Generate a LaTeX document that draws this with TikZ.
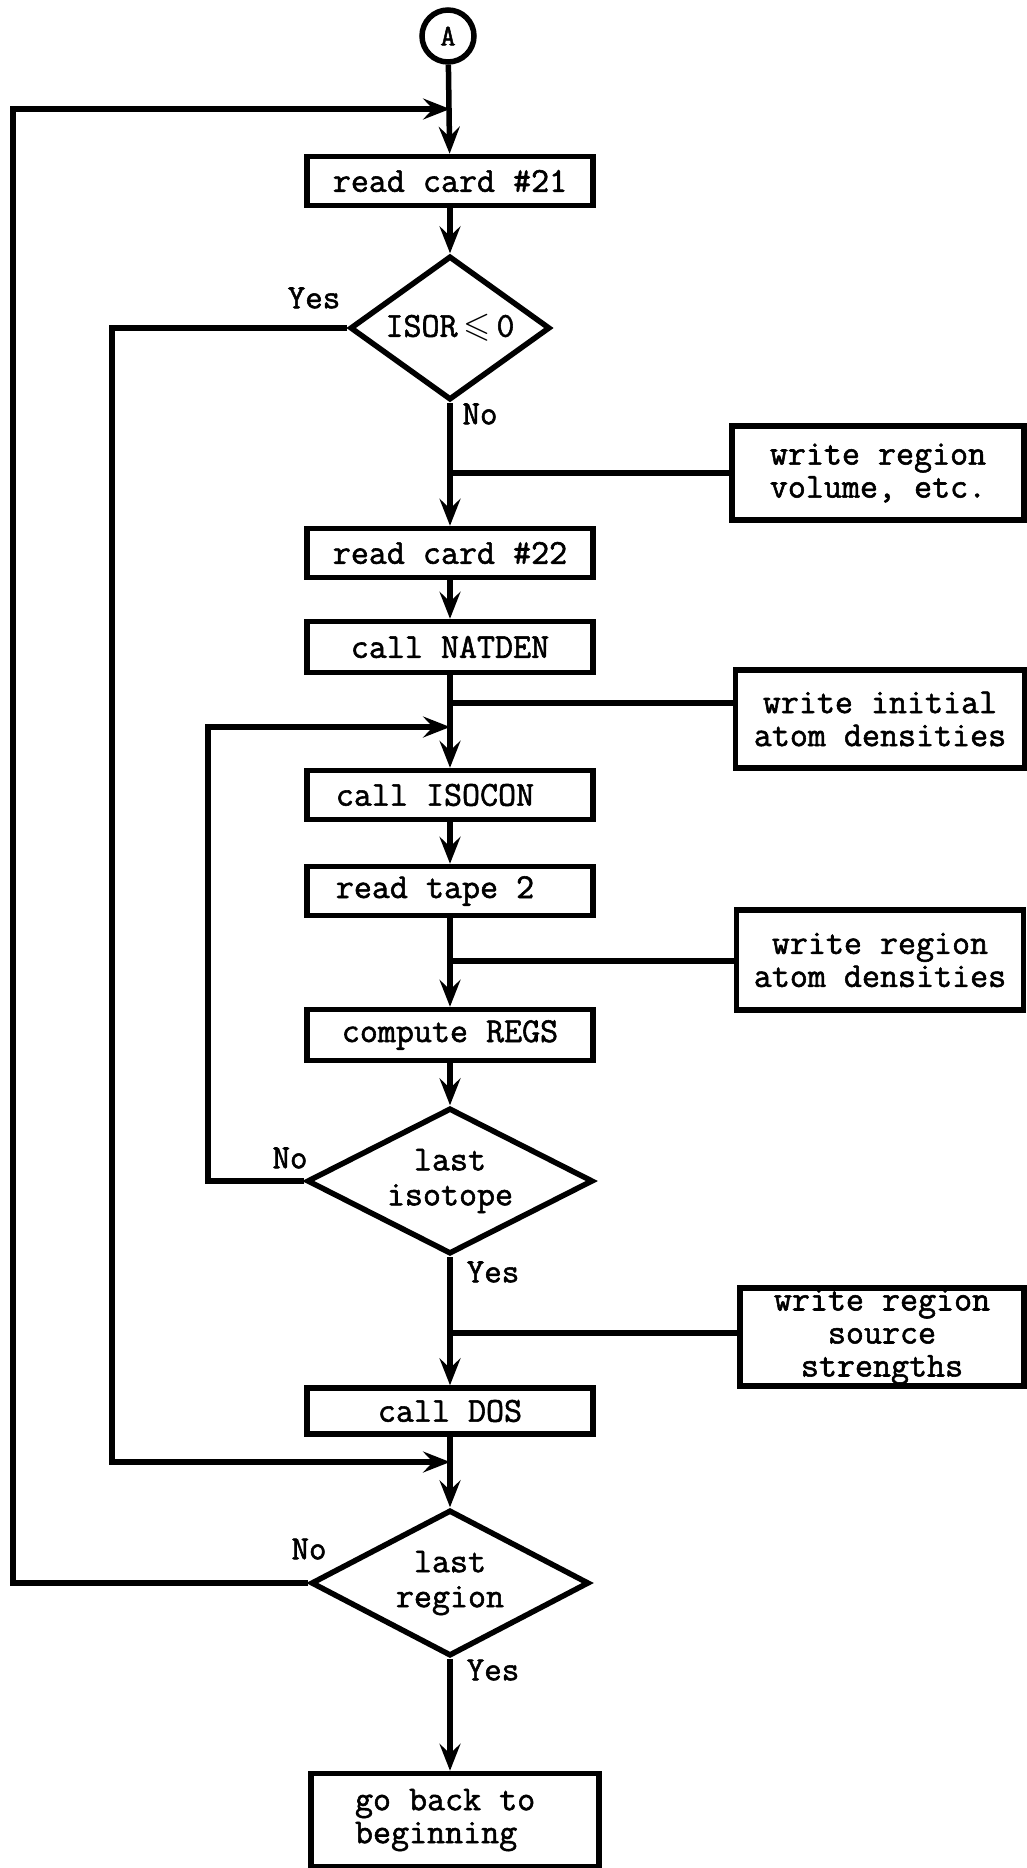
\documentclass[tikz,border=0pt]{standalone}
\usepackage{amssymb}
\usepackage{fontspec}
\newfontfamily\tw[FakeBold=1.6]{Latin Modern Mono}
\usetikzlibrary{shapes.geometric,arrows.meta}
\tikzset{
  lw/.style={line width=5.5pt},
  txt/.style={font=\tw\fontsize{35}{33}\selectfont},
  stepbox/.style={draw,lw,txt,minimum width=286pt,minimum height=49pt,inner sep=0pt},
  sidebox/.style={draw,lw,txt,inner sep=0pt,align=center},
  decide/.style={draw,lw,txt,diamond,inner sep=0pt,align=center},
  lbl/.style={inner sep=0pt,font=\tw\fontsize{34}{33}\selectfont},
  arr/.style={lw,-{Stealth[length=27pt,width=21pt,inset=10pt]}},
  con/.style={lw},
}
\begin{document}
\begin{tikzpicture}[x=1pt,y=-1pt]
\fill[white] (0,0) rectangle (1027,1868);
\useasboundingbox (0,0) rectangle (1027,1868);

% main column
\node[draw,lw,circle,minimum size=52pt,inner sep=0pt,font=\tw\fontsize{30}{30}\selectfont] (A) at (448,36) {A};
\node[stepbox] (r21) at (450,181) {read card \#21};
\node[decide,minimum width=200pt,minimum height=144pt,aspect=1.39] (d1) at (450,328) {ISOR\,$\leqslant$\,0};
\node[stepbox] (r22) at (450,553) {read card \#22};
\node[stepbox,minimum height=51pt] (nat) at (450,647) {\raisebox{-5pt}{call NATDEN}};
\node[stepbox] (iso) at (450,795) {call ISOCON\hspace*{30pt}};
\node[stepbox] (tape) at (450,891) {read tape 2\hspace*{30pt}};
\node[stepbox,minimum height=51pt] (regs) at (450,1035) {\raisebox{-8pt}{compute REGS}};
\node[decide,minimum width=286pt,minimum height=146pt,aspect=1.96] (d2) at (450,1181) {last\\[2pt]isotope};
\node[stepbox,minimum height=46pt] (dos) at (450,1411) {call DOS};
\node[decide,minimum width=278pt,minimum height=146pt,aspect=1.9] (d3) at (450,1583) {last\\[2pt]region};
\node[stepbox,minimum height=93pt,minimum width=288pt] (back) at (455,1820) {\parbox{200pt}{\raggedright go back to\\beginning}};

% side boxes
\node[sidebox,minimum width=292pt,minimum height=94pt] (vol) at (878,473) {write region\\volume, etc.};
\node[sidebox,minimum width=289pt,minimum height=98pt] (init) at (880,719) {write initial\\atom densities};
\node[sidebox,minimum width=287pt,minimum height=100pt] (rad) at (880,960) {write region\\atom densities};
\node[sidebox,minimum width=284pt,minimum height=98pt] (src) at (882,1337) {write region\\source\\strengths};

% junction coordinates on the main line
\coordinate (j0) at (450,109);
\coordinate (j1) at (450,473);
\coordinate (j2) at (450,703);
\coordinate (j3) at (450,727);
\coordinate (j4) at (450,961);
\coordinate (j5) at (450,1333);
\coordinate (j6) at (450,1462);
% loop corners
\coordinate (c1) at (112,328);
\coordinate (c2) at (208,1181);
\coordinate (c3) at (13,1583);

% main flow
\draw[arr] (A) -- (r21);
\draw[arr] (r21) -- (d1);
\draw[arr] (d1) -- (r22);
\draw[arr] (r22) -- (nat);
\draw[arr] (nat) -- (iso);
\draw[arr] (iso) -- (tape);
\draw[arr] (tape) -- (regs);
\draw[arr] (regs) -- (d2);
\draw[arr] (d2) -- (dos);
\draw[arr] (dos) -- (d3);
\draw[arr] (d3) -- (d3 |- back.north);

% side connections
\draw[con] (j1) -- (j1 -| vol.west);
\draw[con] (j2) -- (j2 -| init.west);
\draw[con] (j4) -- (j4 -| rad.west);
\draw[con] (j5) -- (j5 -| src.west);

% loops
\draw[arr] (d1.west) -- (c1) |- (j6);
\draw[arr] (d2.west) -- (c2) |- (j3);
\draw[arr] (d3.west) -- (c3) |- (j0);

% labels
\node[lbl] (l1) at (314,298) {Yes};
\node[lbl] (l2) at (480,414) {No};
\node[lbl] (l3) at (290,1158) {No};
\node[lbl] (l4) at (493,1272) {Yes};
\node[lbl] (l5) at (309,1549) {No};
\node[lbl] (l6) at (493,1670) {Yes};
\end{tikzpicture}
\end{document}
